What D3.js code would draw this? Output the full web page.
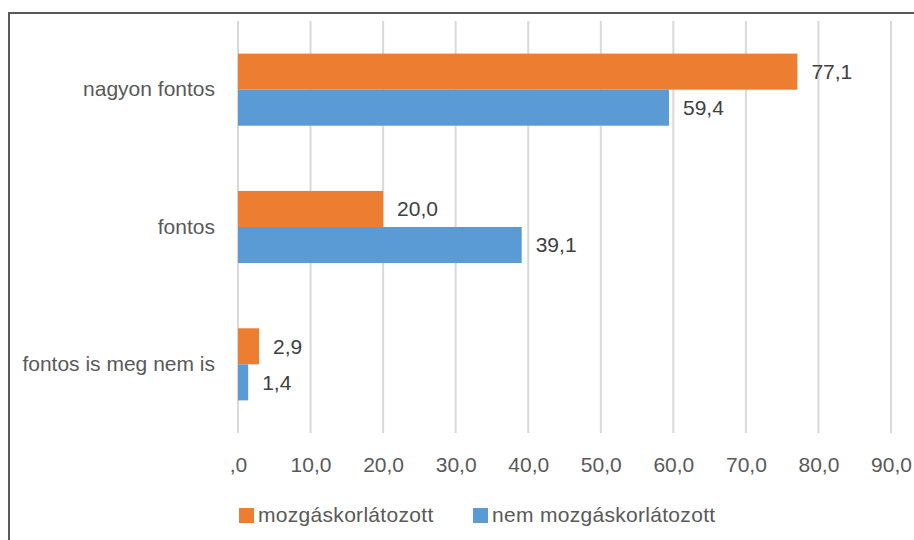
<!DOCTYPE html>
<html>
<head>
<meta charset="utf-8">
<script src="https://cdn.jsdelivr.net/npm/d3@7"></script>
<style>
  body { margin: 0; background: #fff; }
  svg { display: block; font-family: "Liberation Sans", Arial, sans-serif; }
</style>
</head>
<body>
<svg width="914" height="540"></svg>
<script>
var categories = ["nagyon fontos", "fontos", "fontos is meg nem is"]
var series_names = ["mozgáskorlátozott", "nem mozgáskorlátozott"]
var mozgas_values = [77.1, 20.0, 2.9]
var nem_mozgas_values = [59.4, 39.1, 1.4]
var tick_values = [0, 10, 20, 30, 40, 50, 60, 70, 80, 90]
var tick_labels = [",0", "10,0", "20,0", "30,0", "40,0", "50,0", "60,0", "70,0", "80,0", "90,0"]
var colors = ["#ED7D31", "#5B9BD5"]

function fmt(v) {
    return v.toFixed(1).replace(".", ",")
}

function draw_chart() {
    var svg = d3.select("svg")

    // outer frame, right and bottom edges fall outside the picture
    svg.append("rect")
        .attr("x", 9).attr("y", 13)
        .attr("width", 1000).attr("height", 1000)
        .attr("fill", "none")
        .attr("stroke", "#595959")
        .attr("stroke-width", 2)

    var x = d3.scaleLinear().domain([0, 90]).range([238, 891])
    var y = d3.scaleBand().domain(categories).range([21, 433])
        .paddingInner(0.475).paddingOuter(0.2375)
    var sub = d3.scaleBand().domain(series_names).range([0, y.bandwidth()])

    // gridlines
    svg.append("g").selectAll("line")
        .data(tick_values)
        .enter().append("line")
        .attr("x1", function (d) { return x(d) }).attr("x2", function (d) { return x(d) })
        .attr("y1", 21).attr("y2", 433)
        .attr("stroke", "#D9D9D9")
        .attr("stroke-width", 2)

    // x axis labels
    var xAxis = d3.axisBottom(x).tickValues(tick_values)
        .tickFormat(function (d, i) { return tick_labels[i] })
        .tickSize(0).tickPadding(0)
    var gx = svg.append("g").attr("transform", "translate(0,457)").call(xAxis)
    gx.select(".domain").remove()
    gx.selectAll("text")
        .attr("dy", "0.71em")
        .attr("fill", "#595959")
        .style("font-size", "21px")
        .style("font-family", "Liberation Sans, Arial, sans-serif")

    // category labels
    var yAxis = d3.axisLeft(y).tickSize(0).tickPadding(0)
    var gy = svg.append("g").attr("transform", "translate(215,0)").call(yAxis)
    gy.select(".domain").remove()
    gy.selectAll("text")
        .attr("fill", "#595959")
        .style("font-size", "21px")
        .style("font-family", "Liberation Sans, Arial, sans-serif")

    var rows = []
    categories.forEach(function (c, i) {
        rows.push({ cat: c, s: series_names[0], v: mozgas_values[i], color: colors[0] })
        rows.push({ cat: c, s: series_names[1], v: nem_mozgas_values[i], color: colors[1] })
    })

    svg.append("g").selectAll("rect")
        .data(rows)
        .enter().append("rect")
        .attr("x", x(0))
        .attr("y", function (d) { return y(d.cat) + sub(d.s) })
        .attr("width", function (d) { return x(d.v) - x(0) })
        .attr("height", sub.bandwidth())
        .attr("fill", function (d) { return d.color })

    svg.append("g").selectAll("text")
        .data(rows)
        .enter().append("text")
        .attr("x", function (d) { return x(d.v) + 14 })
        .attr("y", function (d) { return y(d.cat) + sub(d.s) + sub.bandwidth() / 2 })
        .attr("dy", "0.35em")
        .attr("fill", "#404040")
        .style("font-size", "21px")
        .text(function (d) { return fmt(d.v) })

    // legend
    var legend_x = [239, 473]
    var lg = svg.append("g").selectAll("g")
        .data(series_names)
        .enter().append("g")
        .attr("transform", function (d, i) { return "translate(" + legend_x[i] + ",508)" })
    lg.append("rect")
        .attr("width", 15).attr("height", 15)
        .attr("fill", function (d, i) { return colors[i] })
    lg.append("text")
        .attr("x", 19).attr("y", 14)
        .attr("fill", "#595959")
        .style("font-size", "21px")
        .style("letter-spacing", "0.3px")
        .text(function (d) { return d })
}

draw_chart()
</script>
</body>
</html>
